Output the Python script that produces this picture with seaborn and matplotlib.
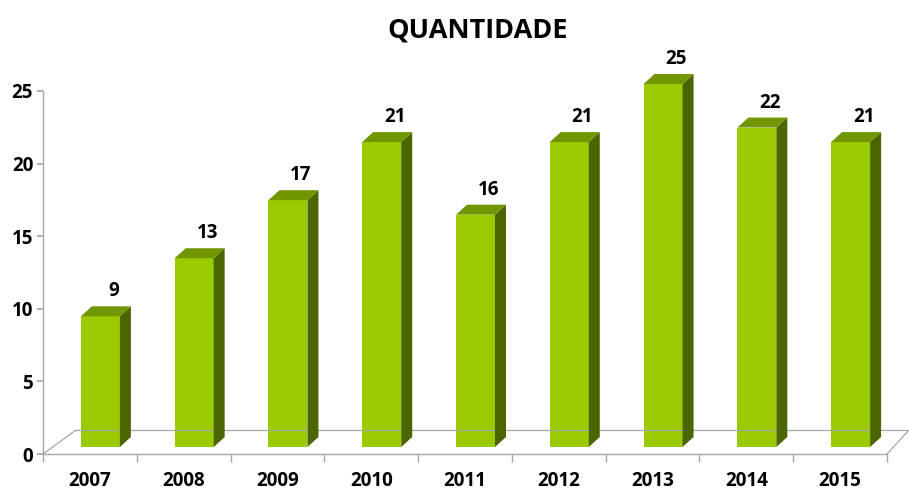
import matplotlib
matplotlib.use("Agg")
import matplotlib.pyplot as plt
import seaborn as sns
import pandas as pd
import numpy as np
from matplotlib.patches import Polygon
from matplotlib.lines import Line2D
from matplotlib.transforms import ScaledTranslation, IdentityTransform

# ---- data ----
years = ["2007", "2008", "2009", "2010", "2011", "2012", "2013", "2014", "2015"]
values = [9, 13, 17, 21, 16, 21, 25, 22, 21]
title = "QUANTIDADE"
yticks = [0, 5, 10, 15, 20, 25]

# ---- style ----
FRONT = "#9ACA00"
SIDE = "#4B6500"
TOP = "#709600"
GRID = "#A6A6A6"

sns.set_theme(style="white")
plt.rcParams['font.family'] = ['Open Sans', 'DejaVu Sans']

W, H = 909, 492
DPI = 100
fig = plt.figure(figsize=(W / DPI, H / DPI), dpi=DPI)
ax = fig.add_axes([43 / W, (H - 454) / H, (887 - 43) / W, (454 - 91) / H])

df = pd.DataFrame({"ano": years, "quantidade": values})
sns.barplot(data=df, x="ano", y="quantidade", color=FRONT, saturation=1,
            width=39 / 93.8, linewidth=0, edgecolor="none", ax=ax, zorder=3,
            errorbar=None)

ax.set_xlim(-0.5, len(years) - 0.5)
ax.set_ylim(0, 25)
ax.set_autoscale_on(False)
ax.set_xlabel("")
ax.set_ylabel("")

# front face shift (bars sit inside the 3D floor)
dx, dy = 10.5, 7.0
ddx, ddy = 11.0, 10.0
shift = ScaledTranslation(dx / DPI, dy / DPI, fig.dpi_scale_trans)

bars = list(ax.patches)
for p, v in zip(bars, values):
    p.set_transform(ax.transData + shift)
    p.set_clip_on(False)
    x0d, wd = p.get_x(), p.get_width()
    (x0, y0) = ax.transData.transform((x0d, 0))
    (x1, y1) = ax.transData.transform((x0d + wd, v))
    x0 += dx; x1 += dx; y0 += dy; y1 += dy
    side = Polygon([(x1, y0), (x1, y1), (x1 + ddx, y1 + ddy), (x1 + ddx, y0 + ddy)],
                   closed=True, facecolor=SIDE, edgecolor="none",
                   transform=IdentityTransform(), clip_on=False)
    top = Polygon([(x0, y1), (x1, y1), (x1 + ddx, y1 + ddy), (x0 + ddx, y1 + ddy)],
                  closed=True, facecolor=TOP, edgecolor="none",
                  transform=IdentityTransform(), clip_on=False)
    fig.add_artist(side)
    fig.add_artist(top)
    # value label
    fig.text(((x0 + x1) / 2 + 13) / W, (y1 + 20) / H, str(v),
             ha="center", va="baseline",
             fontsize=13.5, fontweight="bold", color="black")

# floor (3D base) lines
ax_bl = ax.transAxes.transform((0, 0))
ax_br = ax.transAxes.transform((1, 0))
back_y = ax_bl[1] + 24
floor_lines = [
    [(ax_bl[0], ax_bl[1]), (ax_bl[0] + 33, back_y)],
    [(ax_bl[0] + 33, back_y), (ax_br[0] + 22, back_y)],
    [(ax_br[0], ax_br[1]), (ax_br[0] + 22, back_y)],
]
for seg in floor_lines:
    xs, ys = zip(*seg)
    ln = Line2D(np.array(xs) / W, np.array(ys) / H, color=GRID, lw=0.9,
                transform=fig.transFigure, zorder=0.5)
    fig.add_artist(ln)

for sp in ["top", "right"]:
    ax.spines[sp].set_visible(False)
for sp in ["left", "bottom"]:
    ax.spines[sp].set_color(GRID)
    ax.spines[sp].set_linewidth(1.0)

ax.set_yticks(yticks)
ax.set_yticklabels([str(t) for t in yticks], fontsize=13.5, fontweight="bold")
ax.tick_params(axis="y", which="major", length=4, color=GRID, direction="out",
               pad=3, left=True, labelcolor="black")
ax.set_xticks(range(len(years)))
ax.set_xticklabels(years, fontsize=13.5, fontweight="bold")
ax.set_xticks(np.arange(-0.5, len(years), 1.0), minor=True)
ax.tick_params(axis="x", which="major", length=0, pad=12, labelcolor="black")
ax.tick_params(axis="x", which="minor", length=5.5, color=GRID, direction="out",
               bottom=True)

fig.text(478 / W, (H - 37) / H, title, ha="center", va="baseline",
         fontsize=19.5, fontweight="bold", color="black")

fig.savefig("out.png", dpi=DPI)
